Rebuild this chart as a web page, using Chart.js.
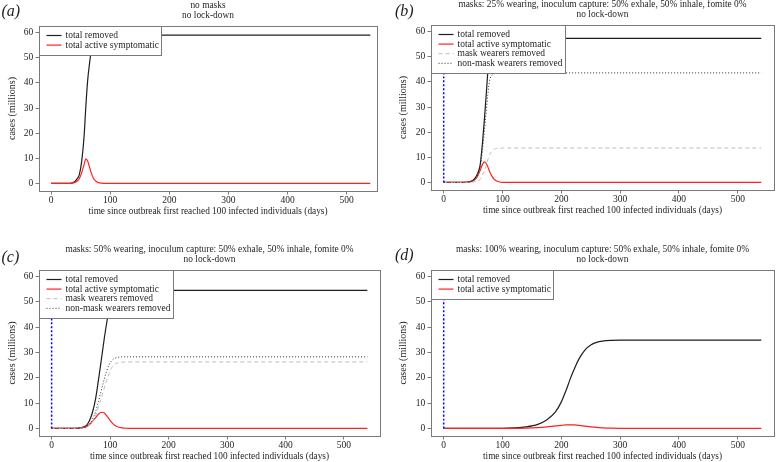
<!DOCTYPE html>
<html><head><meta charset="utf-8">
<script src="https://cdn.jsdelivr.net/npm/chart.js@4/dist/chart.umd.min.js"></script>
<style>
html,body{margin:0;padding:0;background:#fff;width:777px;height:462px;overflow:hidden;}
canvas{position:absolute;}
</style></head><body>
<canvas id="pa"></canvas><canvas id="pb"></canvas><canvas id="pc"></canvas><canvas id="pd"></canvas>
<script>
// ---------- data ----------
const xTicks = [0, 100, 200, 300, 400, 500];
const yTicks = [0, 10, 20, 30, 40, 50, 60];
const seriesNames = ['total removed', 'total active symptomatic', 'mask wearers removed', 'non-mask wearers removed'];

// (a) no masks
const daysA    = [0, 20, 30, 35, 40, 44, 48, 52, 56, 59, 62, 65, 68, 72, 76, 80, 85, 90, 100, 120, 540];
const removedA = [0, 0, 0.05, 0.2, 0.7, 1.8, 3.6, 9, 19, 31, 41, 47.5, 52.5, 56.2, 57.9, 58.6, 58.9, 59, 59, 59, 59];
const activeA  = [0, 0, 0.03, 0.1, 0.35, 0.85, 2.0, 4.3, 7.6, 9.8, 8.9, 6.6, 4.2, 2.0, 0.85, 0.35, 0.1, 0.03, 0, 0, 0];

// (b) 25% wearing
const daysB    = [0, 20, 30, 40, 45, 50, 54, 58, 62, 66, 69, 72, 75, 78, 82, 86, 90, 95, 100, 110, 130, 540];
const removedB = [0, 0, 0.02, 0.15, 0.4, 0.9, 1.9, 3.8, 7.0, 16, 24.5, 34, 44, 51.5, 55, 56.5, 57, 57.2, 57.3, 57.3, 57.3, 57.3];
const activeB  = [0, 0, 0.01, 0.1, 0.25, 0.6, 1.3, 2.7, 4.8, 7.2, 8.2, 7.7, 6.2, 4.4, 2.5, 1.2, 0.55, 0.18, 0.06, 0, 0, 0];
const maskB    = [0, 0, 0.004, 0.03, 0.07, 0.16, 0.34, 0.7, 1.2, 3, 4.5, 6.5, 9, 11, 12.4, 13.2, 13.5, 13.6, 13.7, 13.7, 13.7, 13.7];
const noMaskB  = [0, 0, 0.016, 0.12, 0.33, 0.74, 1.56, 3.1, 5.8, 13, 20, 27.5, 35, 40.5, 42.6, 43.3, 43.5, 43.6, 43.6, 43.6, 43.6, 43.6];

// (c) 50% wearing
const daysC    = [0, 20, 40, 50, 55, 60, 65, 70, 75, 80, 84, 87, 90, 94, 98, 102, 106, 110, 115, 120, 130, 150, 540];
const removedC = [0, 0, 0.05, 0.25, 0.6, 1.3, 3.2, 6.5, 11.5, 19, 25.5, 30.5, 35.5, 41.5, 46.5, 50.3, 52.5, 53.6, 54.2, 54.5, 54.6, 54.6, 54.6];
const activeC  = [0, 0, 0.03, 0.15, 0.35, 0.8, 1.6, 2.8, 4.2, 5.6, 6.3, 6.4, 6.1, 5.1, 3.8, 2.6, 1.6, 0.95, 0.45, 0.2, 0.05, 0, 0];
const maskC    = [0, 0, 0.02, 0.1, 0.25, 0.55, 1.4, 2.8, 5, 8.4, 11.3, 13.6, 16, 18.9, 21.5, 23.7, 25, 25.7, 26, 26.2, 26.3, 26.3, 26.3];
const noMaskC  = [0, 0, 0.03, 0.15, 0.35, 0.75, 1.8, 3.7, 6.5, 10.6, 14.2, 16.9, 19.5, 22.6, 25, 26.6, 27.5, 27.9, 28.2, 28.3, 28.3, 28.3, 28.3];

// (d) 100% wearing
const daysD    = [0, 100, 120, 140, 160, 175, 190, 200, 208, 215, 222, 230, 240, 250, 260, 270, 285, 300, 320, 350, 540];
const removedD = [0, 0.05, 0.2, 0.6, 1.6, 3.3, 6.5, 10.5, 15, 19.5, 23.5, 27.5, 31, 33, 34, 34.5, 34.8, 34.9, 34.9, 34.9, 34.9];
const activeD  = [0, 0.01, 0.04, 0.12, 0.33, 0.6, 0.98, 1.22, 1.38, 1.43, 1.38, 1.22, 0.92, 0.62, 0.38, 0.22, 0.09, 0.04, 0.01, 0, 0];

// vertical marker at day 0 (panels b-d)
const markerDays = [0, 0];
const markerVals = [0, 62.7];

const titlesA = ['no masks', 'no lock-down'];
const titlesB = ['masks: 25% wearing, inoculum capture: 50% exhale, 50% inhale, fomite 0%', 'no lock-down'];
const titlesC = ['masks: 50% wearing, inoculum capture: 50% exhale, 50% inhale, fomite 0%', 'no lock-down'];
const titlesD = ['masks: 100% wearing, inoculum capture: 50% exhale, 50% inhale, fomite 0%', 'no lock-down'];
const xTitle = 'time since outbreak first reached 100 infected individuals (days)';
const yTitle = 'cases (millions)';

// ---------- styling ----------
const SERIF = '"Liberation Serif", "DejaVu Serif", serif';
const TEXT = '#1e1e1e';
const BOX = '#7a7a7a';
const FS = 9.5;

function pts(days, vals) { return days.map((d, i) => ({x: d, y: vals[i]})); }

const STY = {
  removed: {borderColor: '#1e1e1e', borderWidth: 1.2, borderDash: [], order: 5},
  active:  {borderColor: '#ff2020', borderWidth: 1.2, borderDash: [], order: 4},
  mask:    {borderColor: '#bdbdbd', borderWidth: 1, borderDash: [4, 3], order: 3},
  nomask:  {borderColor: '#2a2a2a', borderWidth: 1, borderDash: [1, 2], order: 2},
  marker:  {borderColor: '#0000ff', borderWidth: 1.5, borderDash: [2, 2], order: 1}
};

function ds(label, data, sty, inLegend) {
  return Object.assign({label: label, data: data, pointRadius: 0, fill: false,
    cubicInterpolationMode: 'monotone', inLegend: inLegend}, sty);
}

const decor = {
  id: 'decor',
  afterDatasetsDraw(chart, args, o) {
    const ctx = chart.ctx, ca = chart.chartArea;
    ctx.save();
    // plot box
    ctx.strokeStyle = BOX; ctx.lineWidth = 1; ctx.setLineDash([]);
    ctx.strokeRect(Math.round(ca.left) + 0.5, Math.round(ca.top) + 0.5,
      Math.round(ca.right - ca.left), Math.round(ca.bottom - ca.top));
    // legend
    const items = chart.data.datasets.filter(d => d.inLegend);
    ctx.font = FS + 'px ' + SERIF;
    const maxW = Math.max(...items.map(it => ctx.measureText(it.label).width));
    const bx = Math.round(ca.left) + 0.5, by = Math.round(ca.top) + 0.5;
    const w = Math.round(26 + maxW + 3), h = Math.round(9 + (items.length - 1) * 9.6 + 10);
    ctx.fillStyle = '#fff'; ctx.fillRect(bx, by, w, h);
    ctx.strokeStyle = BOX; ctx.strokeRect(bx, by, w, h);
    items.forEach((it, i) => {
      const y = by + 9 + i * 9.6;
      ctx.beginPath(); ctx.setLineDash(it.borderDash || []);
      ctx.strokeStyle = it.borderColor; ctx.lineWidth = it.borderWidth;
      ctx.moveTo(bx + 7, y); ctx.lineTo(bx + 22, y); ctx.stroke();
      ctx.setLineDash([]);
      ctx.fillStyle = TEXT; ctx.textAlign = 'left'; ctx.textBaseline = 'middle';
      ctx.fillText(it.label, bx + 26, y);
    });
    // titles
    ctx.fillStyle = TEXT; ctx.textAlign = 'center'; ctx.textBaseline = 'middle';
    ctx.font = '9.4px ' + SERIF;
    const cx = (ca.left + ca.right) / 2;
    ctx.fillText(o.titles[0], cx, ca.top - 20.5);
    ctx.fillText(o.titles[1], cx, ca.top - 10);
    // panel label
    ctx.font = 'italic 16px ' + SERIF; ctx.textAlign = 'left';
    ctx.fillText(o.label, o.labelX, o.labelY);
    ctx.restore();
  }
};

function makePanel(id, rect, area, xr, titles, label, labelPos, yTitleX, datasets) {
  const cv = document.getElementById(id);
  cv.width = rect[2]; cv.height = rect[3];
  cv.style.left = rect[0] + 'px'; cv.style.top = rect[1] + 'px';
  const yW = area[0] - rect[0];
  const padR = rect[0] + rect[2] - area[2];
  const padT = area[1] - rect[1];
  const xH = rect[1] + rect[3] - area[3];
  const xfs = 9.3, yfs = 10;
  new Chart(cv, {
    type: 'line',
    data: {datasets: datasets},
    options: {
      responsive: false, animation: false, devicePixelRatio: 1,
      layout: {padding: {left: 0, right: padR, top: padT, bottom: 0}},
      plugins: {legend: {display: false}, tooltip: {enabled: false}, title: {display: false},
        decor: {titles: titles, label: label, labelX: labelPos[0], labelY: labelPos[1]}},
      scales: {
        x: {type: 'linear', min: xr[0], max: xr[1],
          afterBuildTicks: s => { s.ticks = xTicks.map(v => ({value: v})); },
          afterFit: s => { s.height = xH; },
          ticks: {color: TEXT, font: {family: SERIF, size: FS}, padding: 0, maxRotation: 0, autoSkip: false},
          grid: {drawOnChartArea: false, drawTicks: true, tickLength: 3.5, tickColor: BOX, lineWidth: 1},
          border: {display: false},
          title: {display: true, text: xTitle, color: TEXT, font: {family: SERIF, size: xfs},
            padding: {top: 0, bottom: xH - 21 - xfs * 0.6}}
        },
        y: {type: 'linear', min: -3, max: 62.65,
          afterBuildTicks: s => { s.ticks = yTicks.map(v => ({value: v})); },
          afterFit: s => { s.width = yW; },
          ticks: {color: TEXT, font: {family: SERIF, size: FS}, padding: 2.3, autoSkip: false},
          grid: {drawOnChartArea: false, drawTicks: true, tickLength: 3.5, tickColor: BOX, lineWidth: 1},
          border: {display: false},
          title: {display: true, text: yTitle, color: TEXT, font: {family: SERIF, size: yfs},
            padding: {top: yTitleX - yfs * 0.6, bottom: 0}}
        }
      }
    },
    plugins: [decor]
  });
}

makePanel('pa', [0, 0, 388, 231], [39, 26, 377, 191], [-20.3, 551.3], titlesA, '(a)', [1.5, 12], 12, [
  ds(seriesNames[0], pts(daysA, removedA), STY.removed, true),
  ds(seriesNames[1], pts(daysA, activeA), STY.active, true)
]);
makePanel('pb', [388, 0, 389, 231], [431, 25, 774, 190], [-21.6, 561.6], titlesB, '(b)', [7, 12], 15, [
  ds(seriesNames[0], pts(daysB, removedB), STY.removed, true),
  ds(seriesNames[1], pts(daysB, activeB), STY.active, true),
  ds(seriesNames[2], pts(daysB, maskB), STY.mask, true),
  ds(seriesNames[3], pts(daysB, noMaskB), STY.nomask, true),
  ds('', pts(markerDays, markerVals), STY.marker, false)
]);
makePanel('pc', [0, 231, 388, 231], [39, 270, 380, 436], [-21.6, 561.6], titlesC, '(c)', [1.5, 26.5], 12, [
  ds(seriesNames[0], pts(daysC, removedC), STY.removed, true),
  ds(seriesNames[1], pts(daysC, activeC), STY.active, true),
  ds(seriesNames[2], pts(daysC, maskC), STY.mask, true),
  ds(seriesNames[3], pts(daysC, noMaskC), STY.nomask, true),
  ds('', pts(markerDays, markerVals), STY.marker, false)
]);
makePanel('pd', [388, 231, 389, 231], [431, 270, 774, 436], [-21.6, 561.6], titlesD, '(d)', [7, 25], 15, [
  ds(seriesNames[0], pts(daysD, removedD), STY.removed, true),
  ds(seriesNames[1], pts(daysD, activeD), STY.active, true),
  ds('', pts(markerDays, markerVals), STY.marker, false)
]);
</script>
</body></html>
